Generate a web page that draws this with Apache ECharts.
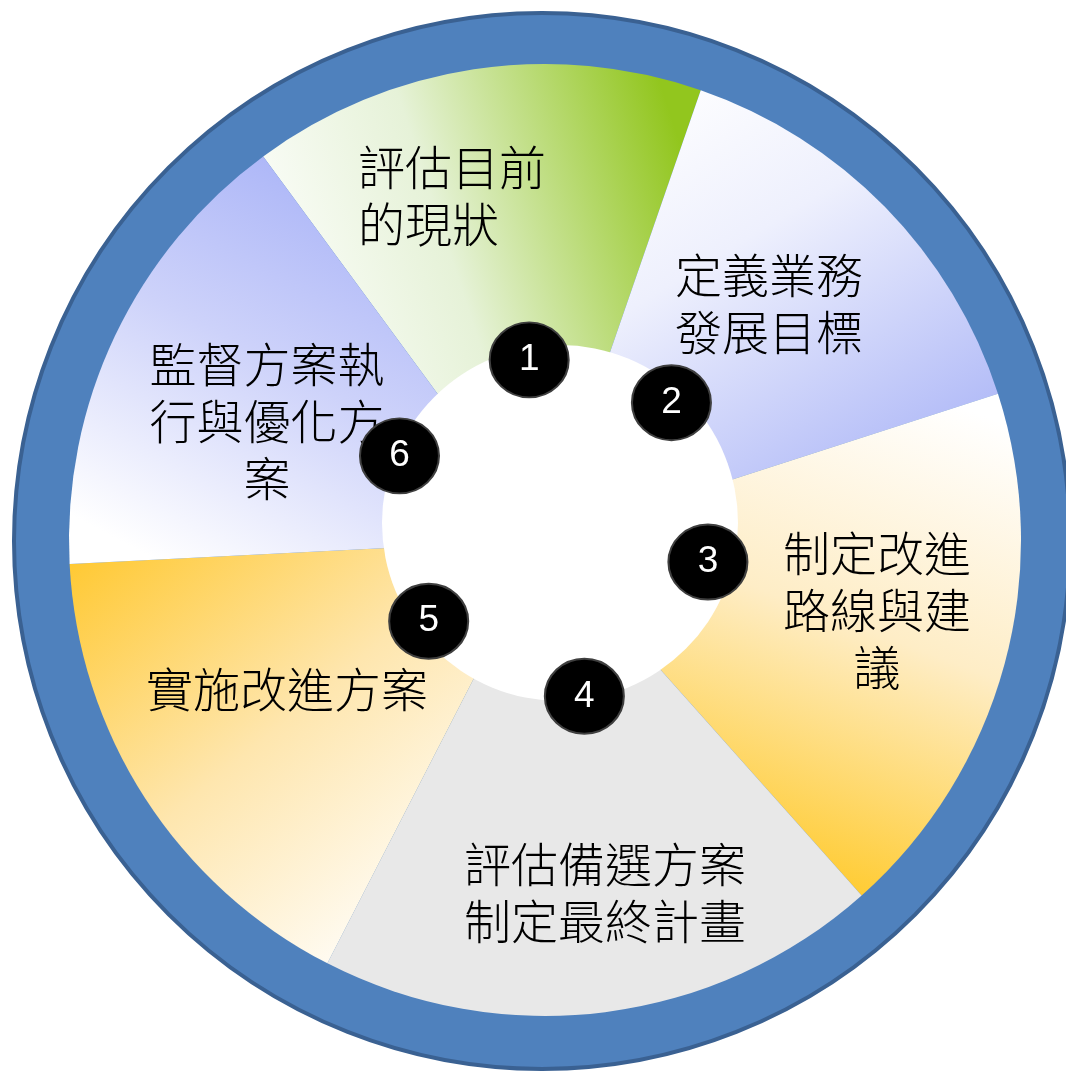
<!DOCTYPE html>
<html>
<head>
<meta charset="utf-8">
<script src="https://cdn.jsdelivr.net/npm/echarts@6/dist/echarts.min.js"></script>
<style>
html,body{margin:0;padding:0;background:#ffffff;}
#chart{width:1066px;height:1073px;}
</style>
</head>
<body>
<div id="chart"></div>
<script>
// ---- data ----
var STEP_LABELS = ['評估目前\n的現狀', '定義業務\n發展目標', '制定改進\n路線與建\n議', '評估備選方案\n制定最終計畫', '實施改進方案', '監督方案執\n行與優化方\n案'];
var SECTOR_SPANS = [55.4, 53.0, 66.2, 68.9, 59.9, 56.6];   // angular size of each sector (deg)
var BADGE_NUMBERS = ['1', '2', '3', '4', '5', '6'];
var BADGE_ANGLES = [100.7, 47.2, 345.2, 278.0, 216.8, 157.3]; // polar angle around hole centre
var BADGE_RADII = [166, 164, 153, 175, 164, 174];

// ---- layout / style (not data) ----
var LABEL_POS = [[358, 196, 'left'], [769, 304, 'center'], [877, 610, 'center'], [605, 893, 'center'], [287, 689, 'center'], [267, 421, 'center']];
function lg(x, y, x2, y2, stops) {
  return new echarts.graphic.LinearGradient(x, y, x2, y2, stops.map(function (s) { return { offset: s[0], color: s[1] }; }));
}
var SECTOR_FILLS = [
  lg(0, 0.6, 1, 0.3, [[0, '#FFFFFF'], [0.45, '#E6F2D8'], [1, '#92C61E']]),
  lg(0.2, 0, 0.8, 1, [[0, '#FFFFFF'], [0.35, '#EEF0FD'], [1, '#A3AEF6']]),
  lg(0.8, 0, 0.4, 1, [[0, '#FFFFFF'], [0.45, '#FEEDC6'], [1, '#FFC61A']]),
  '#E8E8E8',
  lg(0, 0.05, 0.7, 1, [[0, '#FFC933'], [0.5, '#FEE6AE'], [1, '#FFFFFF']]),
  lg(0.65, 0, 0.2, 1, [[0, '#A5B0F7'], [0.5, '#CDD2FA'], [1, '#FFFFFF']])
];

var chart = echarts.init(document.getElementById('chart'), null, { renderer: 'canvas' });

var sectorData = SECTOR_SPANS.map(function (v, i) {
  return { value: v, name: STEP_LABELS[i], itemStyle: { color: SECTOR_FILLS[i] } };
});
var badgeData = BADGE_NUMBERS.map(function (n, i) {
  return { value: [BADGE_RADII[i], BADGE_ANGLES[i]], name: n };
});

chart.setOption({
  animation: false,
  backgroundColor: '#ffffff',
  polar: { center: [560, 523], radius: 200 },
  angleAxis: { type: 'value', min: 0, max: 360, startAngle: 0, clockwise: false, show: false },
  radiusAxis: { type: 'value', min: 0, max: 200, show: false },
  series: [
    {
      type: 'pie', name: 'ring', z: 1, silent: true,
      center: [542, 541], radius: [0, 528],
      label: { show: false }, labelLine: { show: false },
      itemStyle: { color: '#4F81BD', borderColor: '#3A6192', borderWidth: 4 },
      emphasis: { disabled: true },
      data: [{ value: 1, name: 'ring' }]
    },
    {
      type: 'pie', name: 'steps', z: 2, silent: true,
      center: [545, 540], radius: [0, 476],
      startAngle: 126.3, clockwise: true,
      avoidLabelOverlap: false,
      emphasis: { disabled: true },
      labelLine: { show: false },
      label: {
        show: true, position: 'inside',
        formatter: '{b}',
        color: '#000000',
        fontFamily: 'Noto Sans CJK TC',
        fontWeight: 300,
        fontSize: 47, lineHeight: 57
      },
      labelLayout: function (p) {
        var L = LABEL_POS[p.dataIndex];
        return { x: L[0], y: L[1], align: L[2], verticalAlign: 'middle' };
      },
      data: sectorData
    },
    {
      type: 'pie', name: 'hole', z: 3, silent: true,
      center: [560, 523], radius: [0, 178],
      label: { show: false }, labelLine: { show: false },
      itemStyle: { color: '#FFFFFF' },
      emphasis: { disabled: true },
      data: [{ value: 1, name: 'hole' }]
    },
    {
      type: 'scatter', name: 'badges', z: 5, silent: true,
      coordinateSystem: 'polar',
      symbol: 'circle', symbolSize: [79, 75],
      itemStyle: { color: '#000000', borderColor: '#3F3F3F', borderWidth: 2, opacity: 1 },
      label: {
        show: true, position: 'inside', formatter: '{b}',
        color: '#FFFFFF', fontFamily: 'Liberation Sans', fontSize: 37
      },
      data: badgeData
    }
  ]
});
</script>
</body>
</html>
